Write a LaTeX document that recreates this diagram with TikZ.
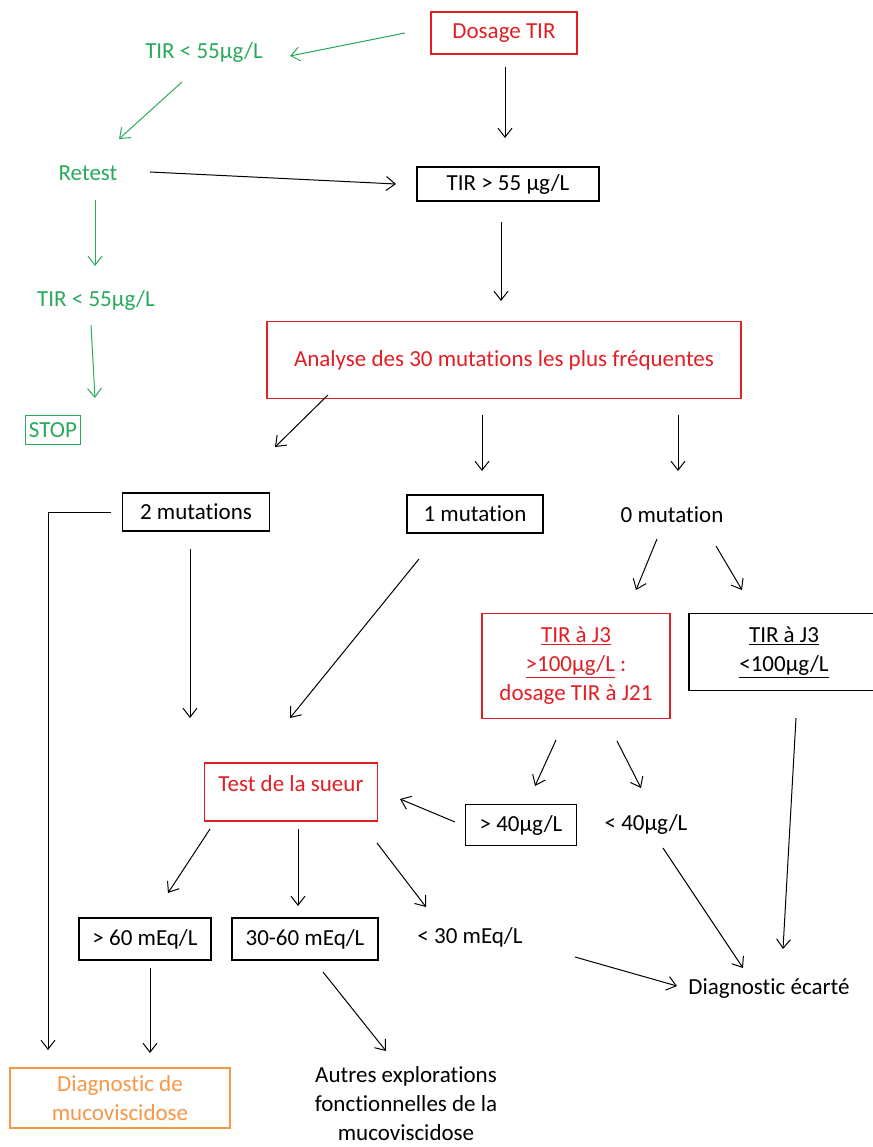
\documentclass[tikz,border=0pt]{standalone}
\usepackage{fontspec}
\setmainfont{Carlito}[RawFeature=-liga]
\usetikzlibrary{arrows.meta}
\definecolor{cred}{RGB}{226,30,36}
\definecolor{cgreen}{RGB}{40,170,90}
\definecolor{corange}{RGB}{246,150,70}
\begin{document}
\begin{tikzpicture}[x=1pt,y=-1pt,
  every node/.style={font=\fontsize{23}{29}\selectfont, inner sep=0pt, align=center},
  box/.style={draw, line width=1.3pt, minimum height=#1},
  box/.default=38,
  arr/.style={line width=1pt, -{Straight Barb[length=9pt,width=14pt,line width=1pt]}},
  gr/.style={cgreen, draw=cgreen},
  rd/.style={text=cred, draw=cred},
  og/.style={text=corange, draw=corange}]
\useasboundingbox (0,0) rectangle (872,1147);
% nodes
\node[box, rd, minimum width=146, minimum height=42] (dos) at (504,33) {Dosage TIR};
\node[text=cgreen] (tir1) at (204,52) {TIR < 55µg/L};
\node[text=cgreen] (retest) at (88,173) {Retest};
\node[box, minimum width=182, minimum height=34] (tir55) at (508,184) {TIR > 55 µg/L};
\node[text=cgreen] (tir2) at (96,300) {TIR < 55µg/L};
\node[box, gr, text=cgreen, minimum width=55, minimum height=29] (stop) at (53,430) {STOP};
\node[box, rd, minimum width=474, minimum height=77] (ana) at (504,360) {Analyse des 30 mutations les plus fréquentes};
\node[box, minimum width=147, minimum height=38] (m2) at (196,512) {2 mutations};
\node[box, minimum width=136, minimum height=38] (m1) at (475,514) {1 mutation};
\node (m0) at (672,515) {0 mutation};
\node[box, rd, minimum width=188, minimum height=105] (j3a) at (576,666)
  {\underline{TIR à J3}\\\underline{>100µg/L} :\\dosage TIR à J21};
\node[box, minimum width=190, minimum height=77] (j3b) at (784,652)
  {\underline{TIR à J3}\\\underline{<100µg/L}};
\node[box, rd, minimum width=173, minimum height=58] (sueur) at (291,792) {};
\node[text=cred] (sueurt) at (291,784) {Test de la sueur};
\node[box, minimum width=111, minimum height=41] (g40) at (521,825) {> 40µg/L};
\node (l40) at (646,824) {< 40µg/L};
\node[box, minimum width=132, minimum height=42] (g60) at (145,939) {> 60 mEq/L};
\node[box, minimum width=146, minimum height=42] (m3060) at (305,939) {30-60 mEq/L};
\node (l30) at (470,937) {< 30 mEq/L};
\node (ecarte) at (769,989) {Diagnostic écarté};
\node[box, og, minimum width=220, minimum height=60] (diag) at (120,1098) {Diagnostic de\\mucoviscidose};
\node (autres) at (406,1104) {Autres explorations\\fonctionnelles de la\\mucoviscidose};
% coordinates
\coordinate (a1s) at (405,33);  \coordinate (a1e) at (290,56);
\coordinate (a2s) at (182,82);  \coordinate (a2e) at (119,139);
\coordinate (a3s) at (150,172); \coordinate (a3e) at (396,184);
\coordinate (a4s) at (505,67);  \coordinate (a4e) at (505,138);
\coordinate (a5s) at (95,200);  \coordinate (a5e) at (95,266);
\coordinate (a6s) at (91,325);  \coordinate (a6e) at (95,398);
\coordinate (a7s) at (501,222); \coordinate (a7e) at (501,301);
\coordinate (a8s) at (328,395); \coordinate (a8e) at (275,447);
\coordinate (a9s) at (482,415); \coordinate (a9e) at (482,471);
\coordinate (a10s) at (678,415); \coordinate (a10e) at (678,471);
\coordinate (a11s) at (111,512); \coordinate (a11c) at (48,512); \coordinate (a11e) at (48,1050);
\coordinate (a12s) at (190,549); \coordinate (a12e) at (190,718);
\coordinate (a13s) at (419,559); \coordinate (a13e) at (290,718);
\coordinate (a14s) at (657,539); \coordinate (a14e) at (636,590);
\coordinate (a15s) at (716,546); \coordinate (a15e) at (742,590);
\coordinate (a16s) at (556,740); \coordinate (a16e) at (535,786);
\coordinate (a17s) at (617,741); \coordinate (a17e) at (641,788);
\coordinate (a18s) at (796,718); \coordinate (a18e) at (783,949);
\coordinate (a19s) at (455,822); \coordinate (a19e) at (400,799);
\coordinate (a20s) at (210,829); \coordinate (a20e) at (168,893);
\coordinate (a21s) at (298,829); \coordinate (a21e) at (298,906);
\coordinate (a22s) at (377,843); \coordinate (a22e) at (426,907);
\coordinate (a23s) at (575,957); \coordinate (a23e) at (677,986);
\coordinate (a24s) at (663,848); \coordinate (a24e) at (743,968);
\coordinate (a25s) at (150,968); \coordinate (a25e) at (150,1053);
\coordinate (a26s) at (323,972); \coordinate (a26e) at (386,1051);
% arrows
\draw[arr, cgreen] (a1s) -- (a1e);
\draw[arr, cgreen] (a2s) -- (a2e);
\draw[arr] (a3s) -- (a3e);
\draw[arr] (a4s) -- (a4e);
\draw[arr, cgreen] (a5s) -- (a5e);
\draw[arr, cgreen] (a6s) -- (a6e);
\draw[arr] (a7s) -- (a7e);
\draw[arr] (a8s) -- (a8e);
\draw[arr] (a9s) -- (a9e);
\draw[arr] (a10s) -- (a10e);
\draw[arr] (a11s) -- (a11c) -- (a11e);
\draw[arr] (a12s) -- (a12e);
\draw[arr] (a13s) -- (a13e);
\draw[arr] (a14s) -- (a14e);
\draw[arr] (a15s) -- (a15e);
\draw[arr] (a16s) -- (a16e);
\draw[arr] (a17s) -- (a17e);
\draw[arr] (a18s) -- (a18e);
\draw[arr] (a19s) -- (a19e);
\draw[arr] (a20s) -- (a20e);
\draw[arr] (a21s) -- (a21e);
\draw[arr] (a22s) -- (a22e);
\draw[arr] (a23s) -- (a23e);
\draw[arr] (a24s) -- (a24e);
\draw[arr] (a25s) -- (a25e);
\draw[arr] (a26s) -- (a26e);
\end{tikzpicture}
\end{document}
